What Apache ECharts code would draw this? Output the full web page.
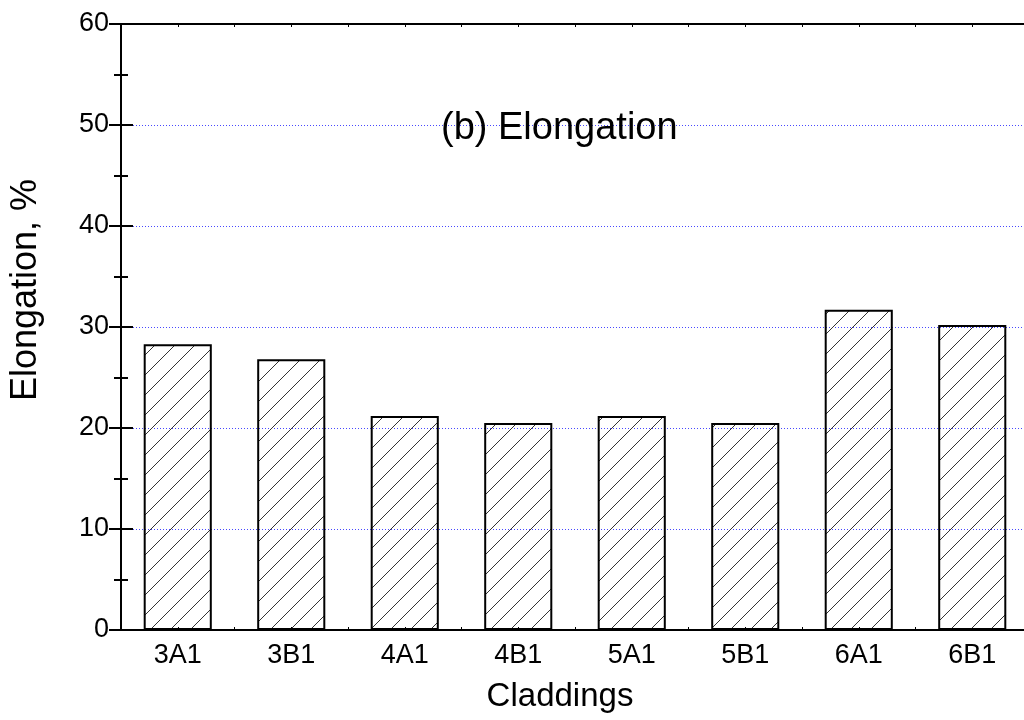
<!DOCTYPE html>
<html>
<head>
<meta charset="utf-8">
<script src="https://cdn.jsdelivr.net/npm/echarts@6/dist/echarts.min.js"></script>
<style>html,body{margin:0;padding:0;background:#fff}</style>
</head>
<body>
<div id="main" style="width:1024px;height:720px;"></div>
<script>
// data
var claddings = ['3A1', '3B1', '4A1', '4B1', '5A1', '5B1', '6A1', '6B1'];
var elongation = [28.3, 26.8, 21.2, 20.5, 21.2, 20.5, 31.7, 30.2];
var yMin = 0, yMax = 60, yStep = 10;

var font = "'Liberation Sans', Arial, sans-serif";

// diagonal hatch for the bars
var hatch = document.createElement('canvas');
hatch.width = 20;
hatch.height = 20;
var ctx = hatch.getContext('2d');
ctx.strokeStyle = '#333';
ctx.lineWidth = 1;
ctx.beginPath();
ctx.moveTo(0, 20); ctx.lineTo(20, 0);
ctx.moveTo(-5, 5); ctx.lineTo(5, -5);
ctx.moveTo(15, 25); ctx.lineTo(25, 15);
ctx.stroke();

var chartDom = document.getElementById('main');
var myChart = echarts.init(chartDom);
var option;

var tickOnly = function (pos) {
  return {
    type: 'value',
    position: pos,
    min: 0,
    max: claddings.length,
    interval: 0.5,
    axisLine: { show: pos === 'top', lineStyle: { color: '#000', width: 2 } },
    axisTick: { show: true, inside: true, length: 3, lineStyle: { color: '#000', width: 1 } },
    axisLabel: { show: false },
    splitLine: { show: false }
  };
};

option = {
  animation: false,
  backgroundColor: '#fff',
  title: {
    text: '(b) Elongation',
    left: 441,
    top: 110,
    padding: 0,
    textStyle: { fontFamily: font, fontSize: 38, fontWeight: 'normal', color: '#000' }
  },
  grid: { left: 121, right: -5, top: 24, bottom: 90, outerBoundsMode: 'none', containLabel: false },
  xAxis: [
    {
      type: 'category',
      data: claddings,
      position: 'bottom',
      name: 'Claddings',
      nameLocation: 'middle',
      nameGap: 50,
      nameTextStyle: { fontFamily: font, fontSize: 33, color: '#000', padding: [0, 30, 0, 0] },
      axisLine: { lineStyle: { color: '#000', width: 2 } },
      axisTick: { show: false },
      axisLabel: { fontFamily: font, fontSize: 27, color: '#000', margin: 12 }
    },
    tickOnly('bottom'),
    tickOnly('top')
  ],
  yAxis: [
    {
      type: 'value',
      min: yMin,
      max: yMax,
      interval: yStep,
      name: 'Elongation, %',
      nameLocation: 'middle',
      nameGap: 77,
      nameTextStyle: { fontFamily: font, fontSize: 36, color: '#000', padding: [0, 0, 0, 74] },
      axisLine: { show: true, lineStyle: { color: '#000', width: 2 } },
      axisTick: { show: true, inside: true, length: 12, lineStyle: { color: '#000', width: 2 } },
      minorTick: { show: true, splitNumber: 2, length: 7, lineStyle: { color: '#000', width: 2 } },
      axisLabel: { fontFamily: font, fontSize: 27, color: '#000', margin: 12 },
      splitLine: { show: true, lineStyle: { color: '#4848ff', width: 1, type: [1, 2] } }
    },
    {
      type: 'value',
      position: 'right',
      min: yMin,
      max: yMax,
      interval: yStep,
      axisLine: { show: true, lineStyle: { color: '#000', width: 2 } },
      axisTick: { show: true, inside: true, length: 12, lineStyle: { color: '#000', width: 2 } },
      minorTick: { show: true, splitNumber: 2, length: 7, lineStyle: { color: '#000', width: 2 } },
      axisLabel: { show: false },
      splitLine: { show: false }
    }
  ],
  series: [
    {
      type: 'bar',
      data: elongation,
      xAxisIndex: 0,
      yAxisIndex: 0,
      barWidth: '60%',
      z: 1,
      itemStyle: {
        color: { image: hatch, repeat: 'repeat' },
        borderColor: '#000',
        borderWidth: 2
      }
    }
  ]
};

option && myChart.setOption(option);
</script>
</body>
</html>
